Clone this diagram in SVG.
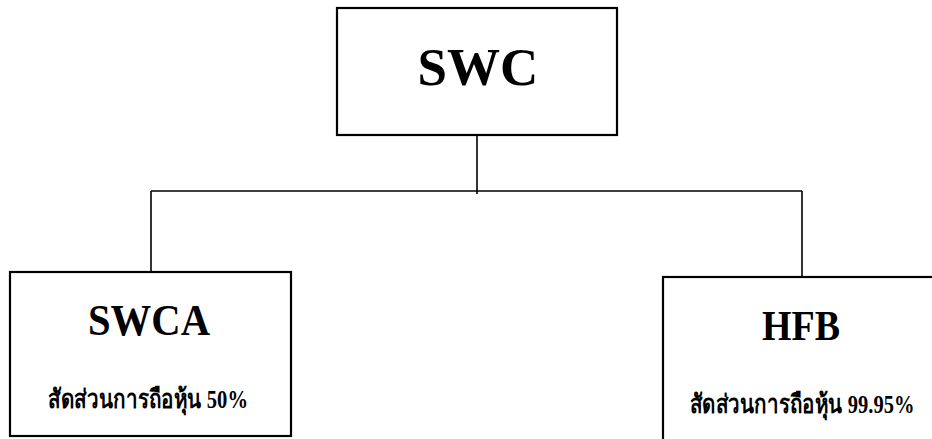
<svg xmlns="http://www.w3.org/2000/svg" width="932" height="439" viewBox="0 0 932 439">
<style>
.box{fill:#fff;stroke:#000;stroke-width:2.2}
.conn{fill:none;stroke:#000;stroke-width:1.6}
.t{font-family:"Liberation Serif","Times New Roman",serif;font-weight:bold;fill:#000;text-anchor:middle}
.th{font-size:26px}
</style>
<rect width="932" height="439" fill="#fff"/>
<g id="connectors">
<path class="conn" d="M477,135 V194"/>
<path class="conn" d="M151,191 H802"/>
<path class="conn" d="M151,191 V272"/>
<path class="conn" d="M802,191 V277"/>
</g>
<g id="node-swc">
<rect class="box" x="337" y="8" width="280" height="127"/>
<text class="t" x="478" y="85" font-size="53">SWC</text>
</g>
<g id="node-swca">
<rect class="box" x="10" y="272" width="281" height="164"/>
<text class="t" x="149" y="335" font-size="45" textLength="122" lengthAdjust="spacingAndGlyphs">SWCA</text>
<text class="t th" x="148" y="408" textLength="200" lengthAdjust="spacingAndGlyphs">สัดส่วนการถือหุ้น 50%</text>
</g>
<g id="node-hfb">
<rect class="box" x="663" y="277" width="285" height="170"/>
<text class="t" x="801" y="340" font-size="42" textLength="78" lengthAdjust="spacingAndGlyphs">HFB</text>
<text class="t th" x="802" y="413" textLength="225" lengthAdjust="spacingAndGlyphs">สัดส่วนการถือหุ้น 99.95%</text>
</g>
</svg>
